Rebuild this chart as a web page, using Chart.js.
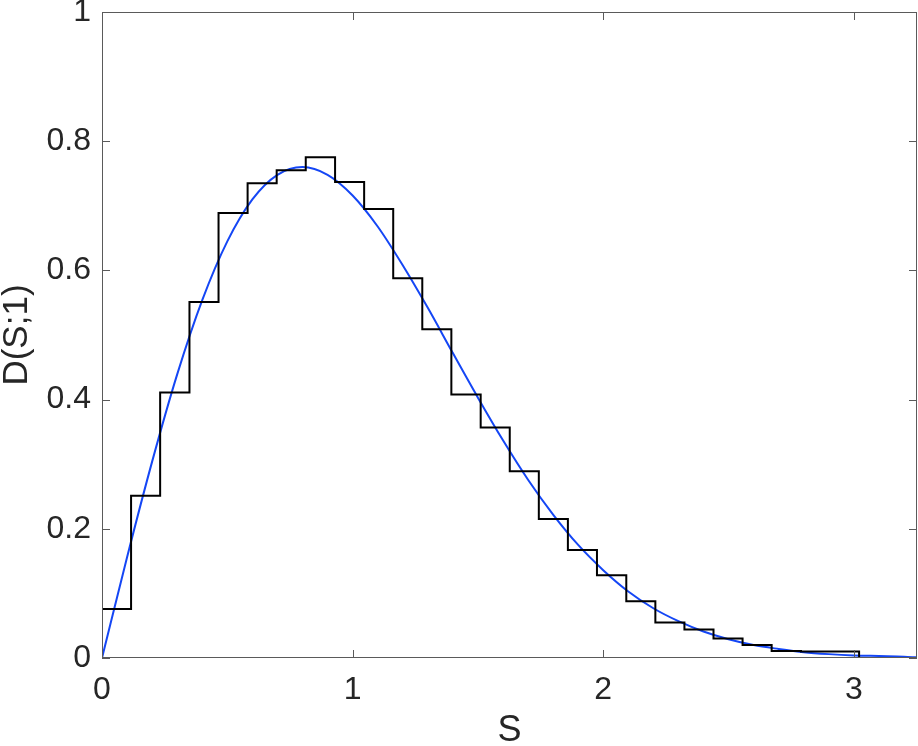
<!DOCTYPE html>
<html>
<head>
<meta charset="utf-8">
<script src="https://cdn.jsdelivr.net/npm/chart.js@4.4.1/dist/chart.umd.min.js"></script>
<style>
  html, body { margin: 0; padding: 0; background: #fff; }
  #wrap { width: 918px; height: 746px; }
</style>
</head>
<body>
<div id="wrap"><canvas id="spacingChart"></canvas></div>
<script>
// Histogram bin edges (S) and bin heights
const binEdges = [0, 0.116, 0.232, 0.349, 0.465, 0.581, 0.697, 0.813, 0.930, 1.046,
    1.162, 1.278, 1.394, 1.511, 1.627, 1.743, 1.859, 1.975, 2.092, 2.208,
    2.324, 2.440, 2.556, 2.672, 2.789, 2.905, 3.021];
const binHeights = [0.076, 0.251, 0.411, 0.551, 0.689, 0.735, 0.755, 0.775, 0.737, 0.695,
    0.588, 0.509, 0.408, 0.357, 0.289, 0.215, 0.167, 0.128, 0.088, 0.055,
    0.044, 0.030, 0.020, 0.011, 0.010, 0.010];

// Blue reference curve
const curveS = [0, 0.1, 0.2, 0.3, 0.4, 0.5, 0.6, 0.7, 0.8, 0.9, 1.0, 1.1, 1.2, 1.3, 1.4, 1.5, 1.6,
    1.7, 1.8, 1.9, 2.0, 2.1, 2.2, 2.3, 2.4, 2.5, 2.6, 2.7, 2.8, 2.9, 3.0, 3.1, 3.2, 3.25];
const curveD = [0, 0.156, 0.304, 0.439, 0.554, 0.645, 0.710, 0.748, 0.760, 0.748, 0.716, 0.668,
    0.608, 0.542, 0.472, 0.403, 0.337, 0.276, 0.222, 0.175, 0.136, 0.103, 0.077, 0.057,
    0.041, 0.029, 0.020, 0.014, 0.009, 0.006, 0.004, 0.003, 0.002, 0.001];

const xTicks = [0, 1, 2, 3];
const yTicks = [0, 0.2, 0.4, 0.6, 0.8, 1];

// outline of the histogram: from (0,0) up through each bin, back down at the end
const histPoints = [{ x: binEdges[0], y: 0 }];
binHeights.forEach((h, i) => histPoints.push({ x: binEdges[i], y: h }));
histPoints.push({ x: binEdges[binEdges.length - 1], y: 0 });

const curvePoints = curveS.map((s, i) => ({ x: s, y: curveD[i] }));

const textColor = '#262626';
const axisColor = '#5a5a5a';

// MATLAB-style box with inward ticks
const boxPlugin = {
    id: 'boxTicks',
    afterDatasetsDraw(chart) {
        const { ctx, chartArea: a, scales } = chart;
        ctx.save();
        ctx.strokeStyle = axisColor;
        ctx.lineWidth = 1;
        ctx.strokeRect(a.left + 0.5, a.top + 0.5, a.right - a.left - 1, a.bottom - a.top - 1);
        const len = 8;
        ctx.beginPath();
        xTicks.forEach(v => {
            const px = Math.round(scales.x.getPixelForValue(v)) + 0.5;
            ctx.moveTo(px, a.bottom); ctx.lineTo(px, a.bottom - len);
            ctx.moveTo(px, a.top); ctx.lineTo(px, a.top + len);
        });
        yTicks.forEach(v => {
            const py = Math.round(scales.y.getPixelForValue(v)) + 0.5;
            ctx.moveTo(a.left, py); ctx.lineTo(a.left + len, py);
            ctx.moveTo(a.right, py); ctx.lineTo(a.right - len, py);
        });
        ctx.stroke();
        ctx.restore();
    }
};

Chart.defaults.font.family = "'Liberation Sans', Arial, Helvetica, sans-serif";
Chart.defaults.color = textColor;

const ctx = document.getElementById('spacingChart').getContext('2d');
new Chart(ctx, {
    type: 'line',
    data: {
        datasets: [{
            label: 'histogram',
            data: histPoints,
            borderColor: '#000000',
            borderWidth: 2,
            stepped: 'before',
            pointRadius: 0,
            fill: false
        }, {
            label: 'curve',
            data: curvePoints,
            borderColor: '#1446f5',
            borderWidth: 2,
            cubicInterpolationMode: 'monotone',
            pointRadius: 0,
            fill: false
        }]
    },
    options: {
        responsive: true,
        maintainAspectRatio: false,
        animation: false,
        parsing: false,
        layout: {
            padding: { top: 12, right: 1, left: 0, bottom: 0 }
        },
        plugins: {
            legend: { display: false },
            tooltip: { enabled: false }
        },
        scales: {
            x: {
                type: 'linear',
                min: 0,
                max: 3.252,
                afterBuildTicks: scale => { scale.ticks = xTicks.map(v => ({ value: v })); },
                afterFit: scale => {
                    scale.height = 88;
                    scale.paddingLeft = 0;
                    scale.paddingRight = 0;
                },
                grid: { drawOnChartArea: false, drawTicks: false },
                border: { display: false },
                ticks: {
                    padding: 13,
                    font: { size: 32 },
                    color: textColor,
                    maxRotation: 0
                },
                title: {
                    display: true,
                    text: 'S',
                    font: { size: 36, lineHeight: 0.85 },
                    color: textColor,
                    padding: { top: 0, bottom: 0 }
                }
            },
            y: {
                type: 'linear',
                min: 0,
                max: 1,
                afterBuildTicks: scale => { scale.ticks = yTicks.map(v => ({ value: v })); },
                afterFit: scale => {
                    scale.width = 102;
                    scale.paddingTop = 0;
                    scale.paddingBottom = 0;
                },
                grid: { drawOnChartArea: false, drawTicks: false },
                border: { display: false },
                ticks: {
                    padding: 11,
                    font: { size: 32 },
                    color: textColor,
                    callback: function(value) {
                        return String(value);
                    }
                },
                title: {
                    display: true,
                    text: 'D(S;1)',
                    font: { size: 35, lineHeight: 1 },
                    color: textColor,
                    padding: { top: 0, bottom: 0 }
                }
            }
        }
    },
    plugins: [boxPlugin]
});
</script>
</body>
</html>
